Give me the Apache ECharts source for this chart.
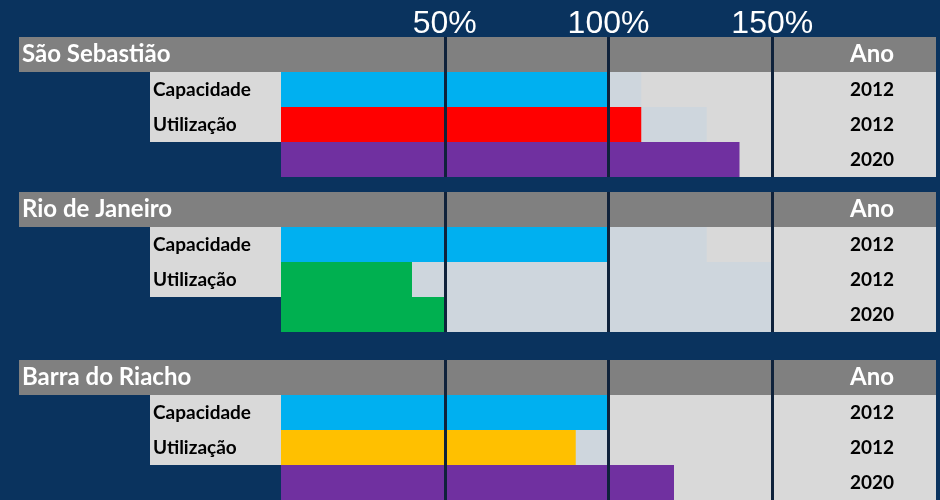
<!DOCTYPE html>
<html>
<head>
<meta charset="utf-8">
<script src="https://cdn.jsdelivr.net/npm/echarts@6/dist/echarts.min.js"></script>
<style>
  html, body { margin: 0; padding: 0; background: #0A335E; }
  #main { width: 940px; height: 500px; }
</style>
</head>
<body>
<div id="main"></div>
<script>
// dados (% da capacidade)
var places = ['São Sebastião', 'Rio de Janeiro', 'Barra do Riacho'];
var rowLabels = ['Capacidade', 'Utilização', ''];
var yearLabels = ['2012', '2012', '2020'];
var ticks = [50, 100, 150];
var capacity = [100, 100, 100];
var utilization = [110, 40, 90];
var forecast2020 = [140, 50, 120];
var shadeCap = [110, 130, null];
var shadeUtil = [130, 150, 100];
var shade2020 = [null, 150, null];
var utilColors = ['#FF0000', '#00B050', '#FFC000'];
var forecastColors = ['#7030A0', '#00B050', '#7030A0'];

// faixa do eixo: coluna de nomes à esquerda, coluna "Ano" à direita
var xMin = -80, xMax = 200, labelBoxStart = -40;

(function () {
  var myChart = echarts.init(document.getElementById('main'));
  var gridTops = [37, 192, 360];
  var grid = [], xAxis = [], yAxis = [], series = [];

  places.forEach(function (place, i) {
    var cats = [place].concat(rowLabels);
    var years = ['Ano'].concat(yearLabels);
    // largura 917 -> o zero cai num pixel inteiro (sem costura)
    grid.push({ left: 19, width: 917, top: gridTops[i], height: 140 });
    xAxis.push({ gridIndex: i, type: 'value', min: xMin, max: xMax, show: false });
    // nomes à esquerda
    yAxis.push({
      gridIndex: i, type: 'category', inverse: true, data: cats, z: 10,
      axisLine: { show: false }, axisTick: { show: false },
      axisLabel: {
        inside: true, margin: 3, interval: 0,
        formatter: function (v, idx) { return idx === 0 ? '{h|' + v + '}' : '{r|' + v + '}'; },
        rich: {
          h: { color: '#fff', fontFamily: 'Lato', fontWeight: 'bold', fontSize: 24 },
          r: { color: '#000', fontFamily: 'Lato', fontWeight: 'bold', fontSize: 19, padding: [0, 0, 0, 131] }
        }
      }
    });
    // coluna Ano
    yAxis.push({
      gridIndex: i, type: 'category', inverse: true, position: 'right', data: years, z: 10,
      axisLine: { show: false }, axisTick: { show: false },
      axisLabel: {
        inside: true, margin: 64, align: 'center', interval: 0,
        formatter: function (v, idx) { return idx === 0 ? '{h|' + v + '}' : '{y|' + v + '}'; },
        rich: {
          h: { color: '#fff', fontFamily: 'Lato', fontWeight: 'bold', fontSize: 24 },
          y: { color: '#000', fontFamily: 'Lato', fontWeight: 'bold', fontSize: 19 }
        }
      }
    });

    var common = { type: 'bar', xAxisIndex: i, yAxisIndex: i * 2, barWidth: '100%', barGap: '-100%', silent: true, animation: false };
    // fundo cinza
    series.push(Object.assign({}, common, {
      name: 'fundo' + i, color: '#D9D9D9',
      data: [{ value: xMax, itemStyle: { color: '#808080' } }, xMax, xMax, xMax]
    }));
    series.push(Object.assign({}, common, {
      name: 'rotulos' + i, color: '#D9D9D9',
      data: [{ value: xMin, itemStyle: { color: '#808080' } }, labelBoxStart, labelBoxStart, null]
    }));
    // sombra
    series.push(Object.assign({}, common, {
      name: 'sombra' + i, color: '#CED6DD',
      data: [null, shadeCap[i], shadeUtil[i], shade2020[i]]
    }));
    // valores
    series.push(Object.assign({}, common, {
      name: 'valores' + i,
      data: [null,
        { value: capacity[i], itemStyle: { color: '#00B0F0' } },
        { value: utilization[i], itemStyle: { color: utilColors[i] } },
        { value: forecast2020[i], itemStyle: { color: forecastColors[i] } }],
      markLine: {
        silent: true, symbol: ['none', 'none'], animation: false,
        lineStyle: { color: '#0F223B', width: 3, type: 'solid', opacity: 1 },
        label: {
          show: i === 0, position: 'start', formatter: '{c}%', distance: -3,
          color: '#fff', fontFamily: 'Liberation Sans', fontSize: 32
        },
        data: ticks.map(function (t) { return { xAxis: t }; })
      }
    }));
  });

  myChart.setOption({
    backgroundColor: '#0A335E',
    grid: grid,
    xAxis: xAxis,
    yAxis: yAxis,
    series: series
  });
})();
</script>
</body>
</html>
